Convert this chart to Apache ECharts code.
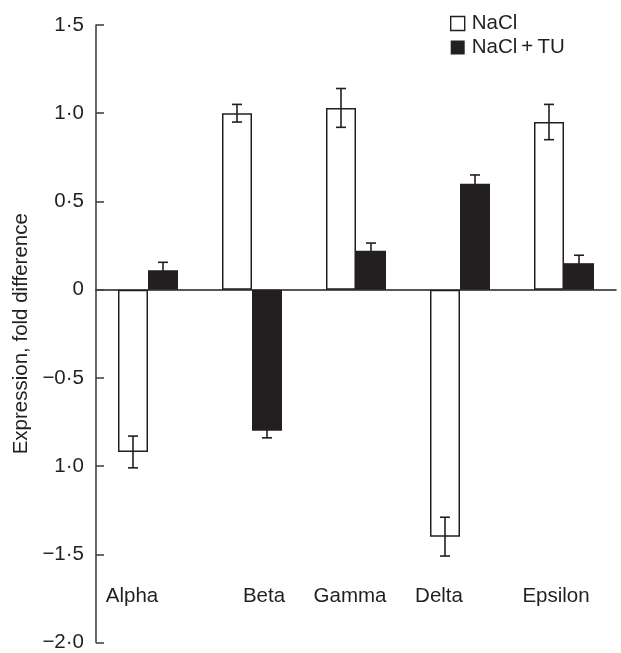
<!DOCTYPE html>
<html>
<head>
<meta charset="utf-8">
<script src="https://cdn.jsdelivr.net/npm/echarts@6/dist/echarts.min.js"></script>
<style>
  html, body { margin: 0; padding: 0; background: #fff; }
  #chart { width: 621px; height: 653px; }
</style>
</head>
<body>
<div id="chart"></div>
<script>
const categories = ['Alpha', 'Beta', 'Gamma', 'Delta', 'Epsilon'];
const naclValues = [-0.92, 1.00, 1.03, -1.40, 0.95];
const naclErrors = [0.09, 0.05, 0.11, 0.11, 0.10];
const tuValues = [0.11, -0.80, 0.22, 0.60, 0.15];
const tuErrors = [0.045, 0.04, 0.044, 0.05, 0.045];
const yTickValues = [-2, -1.5, -1, -0.5, 0, 0.5, 1, 1.5];
const yTickLabels = ['\u22122\u00b70', '\u22121\u00b75', '1\u00b70', '\u22120\u00b75', '0', '0\u00b75', '1\u00b70', '1\u00b75'];

const ink = '#231f20';
const font = '"Liberation Sans", Arial, sans-serif';
const fs = 20.5;
const barW = 30;
// nudge each category label sideways like the hand-placed originals
const labelShift = [-16, 12, -6, -21, -8];

function errorSeries(values, errors, side) {
    return {
        type: 'custom',
        z: 5,
        silent: true,
        data: values.map((v, i) => [i, v - errors[i], v + errors[i]]),
        encode: { x: 0, y: [1, 2] },
        renderItem: (params, api) => {
            const i = api.value(0);
            const lo = api.coord([i, api.value(1)]);
            const hi = api.coord([i, api.value(2)]);
            const x = lo[0] + side * barW / 2;
            const cap = 5;
            const style = { stroke: ink, lineWidth: 1.6 };
            return {
                type: 'group',
                children: [
                    { type: 'line', shape: { x1: x, y1: lo[1], x2: x, y2: hi[1] }, style },
                    { type: 'line', shape: { x1: x - cap, y1: lo[1], x2: x + cap, y2: lo[1] }, style },
                    { type: 'line', shape: { x1: x - cap, y1: hi[1], x2: x + cap, y2: hi[1] }, style },
                ],
            };
        },
    };
}

const rich = {};
labelShift.forEach((s, i) => {
    rich['c' + i] = {
        fontSize: fs,
        fontFamily: font,
        color: ink,
        padding: s < 0 ? [0, -2 * s, 0, 0] : [0, 0, 0, 2 * s],
    };
});

const chart = echarts.init(document.getElementById('chart'), null, { renderer: 'canvas' });
chart.setOption({
    animation: false,
    backgroundColor: '#fff',
    textStyle: { fontFamily: font, color: ink },
    grid: { left: 96, right: 5, top: 25, bottom: 8 },
    legend: {
        orient: 'vertical',
        left: 445,
        top: 8,
        itemWidth: 14,
        itemHeight: 14,
        itemGap: 3,
        icon: 'rect',
        textStyle: { fontSize: fs, color: ink, fontFamily: font, padding: [0, 0, 0, 2] },
        data: [
            { name: 'NaCl', itemStyle: { color: '#fff', borderColor: ink, borderWidth: 1.4 } },
            { name: 'NaCl\u2009+\u2009TU', itemStyle: { color: ink } },
        ],
    },
    xAxis: [
        {
            type: 'category',
            data: categories,
            axisLine: { onZero: true, lineStyle: { color: ink, width: 1.5 } },
            axisTick: { show: false },
            axisLabel: { show: false },
            splitLine: { show: false },
        },
        {
            type: 'category',
            data: categories,
            position: 'bottom',
            offset: -57,
            axisLine: { show: false },
            axisTick: { show: false },
            axisLabel: {
                margin: 0,
                formatter: (v, i) => '{c' + i + '|' + v + '}',
                rich,
            },
        },
    ],
    yAxis: {
        type: 'value',
        min: -2,
        max: 1.5,
        interval: 0.5,
        name: 'Expression, fold difference',
        nameLocation: 'middle',
        nameGap: 64,
        nameTextStyle: { fontSize: fs, color: ink, fontFamily: font },
        axisLine: { show: true, onZero: false, lineStyle: { color: '#444', width: 1.6 } },
        axisTick: { show: true, inside: true, length: 8, lineStyle: { color: '#444', width: 1.6 } },
        axisLabel: {
            fontSize: fs,
            color: ink,
            margin: 12,
            formatter: (v) => {
                const k = yTickValues.findIndex((t) => Math.abs(t - v) < 1e-9);
                return k >= 0 ? yTickLabels[k] : '';
            },
        },
        splitLine: { show: false },
    },
    series: [
        {
            name: 'NaCl',
            type: 'bar',
            data: naclValues,
            barWidth: barW,
            barGap: '0%',
            itemStyle: { color: '#fff', borderColor: ink, borderWidth: 1.5 },
        },
        {
            name: 'NaCl\u2009+\u2009TU',
            type: 'bar',
            data: tuValues,
            barWidth: barW,
            barGap: '0%',
            itemStyle: { color: ink },
        },
        errorSeries(naclValues, naclErrors, -1),
        errorSeries(tuValues, tuErrors, 1),
    ],
}, true);
</script>
</body>
</html>
